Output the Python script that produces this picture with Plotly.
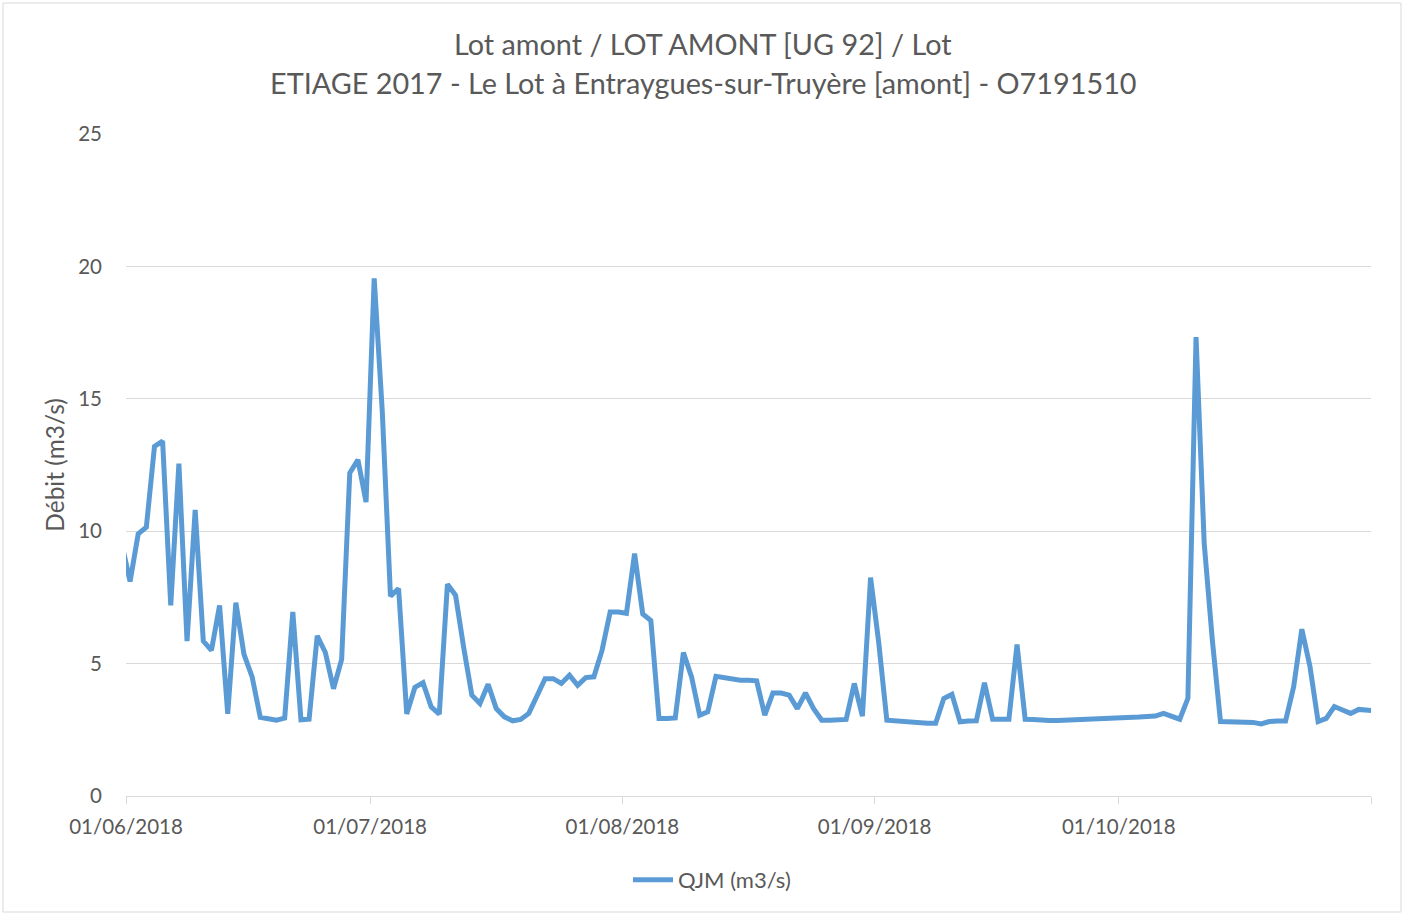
import pandas as pd
import plotly.graph_objects as go

# Daily mean flow QJM (m3/s), from 31/05/2018 to 01/11/2018
qjm = [
    9.5,
    8.1, 9.9, 10.15, 13.2, 13.4, 7.2, 12.55, 5.85, 10.8, 5.85,
    5.5, 7.2, 3.1, 7.3, 5.35, 4.5, 2.97, 2.92, 2.86, 2.94,
    6.95, 2.88, 2.9, 6.05, 5.42, 4.05, 5.16, 12.2, 12.7, 11.1,
    19.55, 14.5, 7.55, 7.83, 3.1, 4.1, 4.28, 3.37, 3.09, 8.0,
    7.58, 5.6, 3.81, 3.49, 4.22, 3.3, 2.99, 2.84, 2.89, 3.12,
    3.74, 4.43, 4.43, 4.25, 4.56, 4.18, 4.47, 4.5, 5.5, 6.95,
    6.95, 6.9, 9.15, 6.88, 6.63, 2.93, 2.93, 2.95, 5.42, 4.5,
    3.05, 3.18, 4.52, 4.47, 4.43, 4.37, 4.37, 4.35, 3.05, 3.89,
    3.89, 3.81, 3.3, 3.89, 3.3, 2.86, 2.86, 2.89, 2.89, 4.25,
    3.02, 8.25, 5.8, 2.86, 2.84, 2.8, 2.76, 2.74, 2.75, 2.75,
    3.68, 3.84, 2.8, 2.83, 2.84, 4.28, 2.9, 2.9, 2.9, 5.72,
    2.9, 2.89, 2.86, 2.85, 2.85, 2.86, 2.9, 2.9, 2.9, 2.9,
    2.9, 2.95, 2.95, 2.96, 2.98, 3.0, 3.02, 3.12, 3.0, 2.9,
    3.69, 17.33, 9.55, 5.89, 2.81, 2.81, 2.78, 2.78, 2.78, 2.72,
    2.81, 2.83, 2.83, 4.13, 6.3, 4.89, 2.81, 2.93, 3.38, 3.25,
    3.12, 3.27, 3.25, 3.22,
]
dates = pd.date_range("2018-05-31", periods=len(qjm), freq="D")

tick_vals = ["2018-06-01", "2018-07-01", "2018-08-01", "2018-09-01", "2018-10-01", "2018-11-01"]
tick_text = ["01/06/2018", "01/07/2018", "01/08/2018", "01/09/2018", "01/10/2018", ""]
y_ticks = [0, 5, 10, 15, 20, 25]

title_1 = "Lot amont / LOT AMONT [UG 92] / Lot"
title_2 = "ETIAGE 2017 - Le Lot à Entraygues-sur-Truyère [amont] - O7191510"
series_name = "QJM (m3/s)"

FONT = "Lato"
GREY = "#595959"
GRID = "#d9d9d9"

W, H = 1407, 916
L, R, T, B = 126, 36, 134, 120
pw, ph = W - L - R, H - T - B


def px(x):
    return (x - L) / pw


def py(y):
    return (H - B - y) / ph


fig = go.Figure()
fig.add_trace(go.Scatter(
    x=dates, y=qjm, mode="lines", name=series_name,
    xperiod=86400000, xperiodalignment="middle",
    line=dict(color="#5b9bd5", width=5),
))

fig.update_layout(
    width=W, height=H,
    margin=dict(l=L, r=R, t=T, b=B, autoexpand=False),
    paper_bgcolor="white", plot_bgcolor="white",
    font=dict(family=FONT, color=GREY, size=20),
    showlegend=True,
    legend=dict(orientation="h", x=px(712), xanchor="center", y=py(880), yanchor="middle",
                font=dict(size=22, color=GREY), itemwidth=40),
    xaxis=dict(
        type="date", range=["2018-06-01", "2018-11-01"],
        tickmode="array", tickvals=tick_vals, ticktext=tick_text,
        ticks="outside", ticklen=7, tickcolor=GRID, tickwidth=1,
        showline=True, linecolor=GRID, linewidth=1,
        showgrid=False, zeroline=False, ticklabelstandoff=5,
        tickfont=dict(size=20.5, color=GREY),
    ),
    yaxis=dict(
        range=[0, 25], tickmode="array", tickvals=y_ticks,
        showgrid=True, gridcolor=GRID, gridwidth=1, zeroline=False,
        showline=False, ticks="", ticklabelstandoff=23,
        tickfont=dict(size=20.5, color=GREY),
        title=dict(text="Débit (m3/s)", font=dict(size=24.5, color=GREY), standoff=6),
    ),
    annotations=[
        dict(text=title_1, x=px(703), y=py(44), xref="paper", yref="paper",
             showarrow=False, xanchor="center", yanchor="middle", font=dict(size=28.8, color=GREY)),
        dict(text=title_2, x=px(703), y=py(83), xref="paper", yref="paper",
             showarrow=False, xanchor="center", yanchor="middle", font=dict(size=28.8, color=GREY)),
    ],
    shapes=[dict(type="rect", xref="paper", yref="paper",
                 x0=px(3), x1=px(1401), y0=py(912), y1=py(3),
                 line=dict(color=GRID, width=1), fillcolor="rgba(0,0,0,0)", layer="below")],
)

fig.write_html("out.html", config={"displayModeBar": False},
               post_script="document.body.style.margin='0';document.body.style.overflow='hidden';")
